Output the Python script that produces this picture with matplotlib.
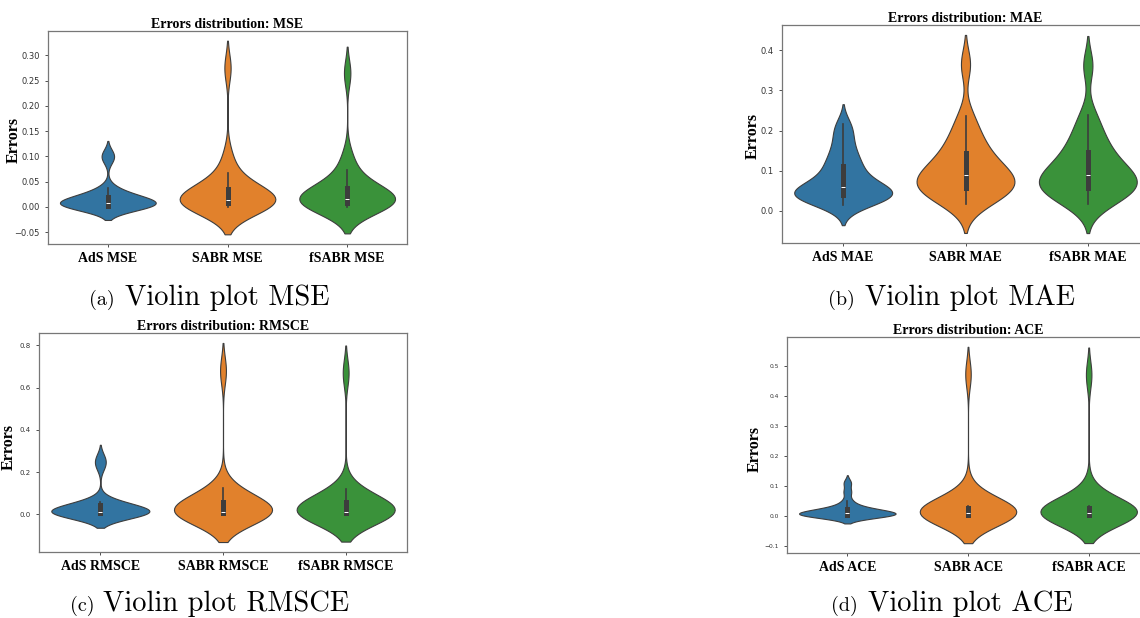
import matplotlib
matplotlib.use("Agg")
import matplotlib.pyplot as plt
import seaborn as sns
import pandas as pd

# errores por modelo
mse_ads = [0.000, 0.000, 0.001, 0.001, 0.002, 0.003, 0.005, 0.007, 0.008, 0.008,
           0.009, 0.012, 0.015, 0.018, 0.020, 0.022, 0.030, 0.037, 0.095, 0.105]
mse_sabr = [0.000, 0.001, 0.003, 0.005, 0.006, 0.008, 0.010, 0.012, 0.013, 0.014,
            0.015, 0.018, 0.022, 0.028, 0.035, 0.040, 0.052, 0.068, 0.100, 0.275]
mse_fsabr = [0.000, 0.001, 0.003, 0.005, 0.007, 0.009, 0.011, 0.013, 0.015, 0.016,
             0.017, 0.020, 0.024, 0.030, 0.037, 0.042, 0.055, 0.073, 0.100, 0.265]

mae_ads = [0.015, 0.025, 0.030, 0.035, 0.038, 0.040, 0.043, 0.045, 0.048, 0.055,
           0.062, 0.070, 0.080, 0.095, 0.110, 0.120, 0.140, 0.160, 0.190, 0.215]
mae_sabr = [0.018, 0.030, 0.040, 0.048, 0.052, 0.058, 0.065, 0.072, 0.080, 0.088,
            0.093, 0.100, 0.110, 0.125, 0.140, 0.155, 0.175, 0.200, 0.235, 0.365]
mae_fsabr = [0.018, 0.030, 0.040, 0.047, 0.051, 0.058, 0.066, 0.073, 0.081, 0.088,
             0.092, 0.100, 0.112, 0.128, 0.143, 0.158, 0.178, 0.205, 0.238, 0.362]

rmsce_ads = [0.000, 0.000, 0.001, 0.002, 0.003, 0.005, 0.007, 0.009, 0.011, 0.012,
             0.013, 0.016, 0.020, 0.028, 0.040, 0.046, 0.052, 0.060, 0.230, 0.265]
rmsce_sabr = [0.000, 0.000, 0.001, 0.002, 0.003, 0.004, 0.005, 0.007, 0.008, 0.009,
              0.011, 0.015, 0.022, 0.035, 0.055, 0.065, 0.080, 0.100, 0.125, 0.680]
rmsce_fsabr = [0.000, 0.000, 0.001, 0.002, 0.003, 0.004, 0.005, 0.007, 0.008, 0.009,
               0.011, 0.015, 0.022, 0.035, 0.055, 0.065, 0.078, 0.095, 0.120, 0.670]

ace_ads = [0.000, 0.000, 0.001, 0.002, 0.003, 0.004, 0.005, 0.006, 0.007, 0.008,
           0.009, 0.011, 0.014, 0.018, 0.022, 0.026, 0.033, 0.050, 0.080, 0.110]
ace_sabr = [0.000, 0.000, 0.001, 0.002, 0.003, 0.004, 0.005, 0.006, 0.008, 0.009,
            0.011, 0.013, 0.015, 0.018, 0.024, 0.028, 0.033, 0.060, 0.075, 0.472]
ace_fsabr = [0.000, 0.000, 0.001, 0.002, 0.003, 0.004, 0.005, 0.006, 0.008, 0.009,
             0.011, 0.013, 0.015, 0.018, 0.024, 0.028, 0.034, 0.060, 0.078, 0.470]

modelos = ["AdS", "SABR", "fSABR"]
colores = ["#1f77b4", "#ff7f0e", "#2ca02c"]

# metrica, datos, letra, caja en px (x0, y0, x1, y1), tamano ytick, posicion de "Errors"
paneles = [
    ("MSE", [mse_ads, mse_sabr, mse_fsabr], "(a)", [48, 31, 407, 244], 6.0, (-0.072, 0.49)),
    ("MAE", [mae_ads, mae_sabr, mae_fsabr], "(b)", [782, 25, 1149, 243], 6.0, (-0.058, 0.49)),
    ("RMSCE", [rmsce_ads, rmsce_sabr, rmsce_fsabr], "(c)", [39, 333, 407, 552], 5.0, (-0.06, 0.48)),
    ("ACE", [ace_ads, ace_sabr, ace_fsabr], "(d)", [787, 337, 1149, 553], 4.3, (-0.066, 0.48)),
]
# subtitulos: (fin de etiqueta, inicio de texto, linea base)
pies = {"(a)": (115, 125, 305), "(b)": (855, 865, 305),
        "(c)": (95, 103, 611), "(d)": (858, 868, 611)}

W, H = 1140, 618
fig = plt.figure(figsize=(W / 100, H / 100), dpi=100)

for metrica, datos, letra, caja, tam_ytick, pos_lab in paneles:
    x0, y0, x1, y1 = caja
    ax = fig.add_axes([x0 / W, 1 - y1 / H, (x1 - x0) / W, (y1 - y0) / H])
    filas = []
    for m, vals in zip(modelos, datos):
        for v in vals:
            filas.append({"modelo": f"{m} {metrica}", "error": v})
    df = pd.DataFrame(filas)
    sns.violinplot(data=df, x="modelo", y="error", hue="modelo", palette=colores,
                   density_norm="width", bw_adjust=0.8, linewidth=0.8,
                   inner="box", legend=False, ax=ax)
    ax.set_xlabel("")
    ax.set_ylabel("Errors", fontfamily="Liberation Serif", fontweight="bold", fontsize=11.5)
    ax.yaxis.set_label_coords(*pos_lab)
    ax.set_title(f"Errors distribution: {metrica}", fontfamily="Liberation Serif",
                 fontweight="bold", fontsize=10, pad=2)
    ax.tick_params(axis="y", labelsize=tam_ytick, length=2.5, width=0.6, colors="#333333")
    ax.tick_params(axis="x", length=2.5, width=0.6, colors="#333333")
    for t in ax.get_xticklabels():
        t.set_fontfamily("Liberation Serif")
        t.set_fontweight("bold")
        t.set_fontsize(10)
        t.set_color("black")
    for s in ax.spines.values():
        s.set_color("#777777")
        s.set_linewidth(0.9)

    fin_etq, ini_txt, base = pies[letra]
    fig.text(fin_etq / W, 1 - base / H, letra, ha="right", va="baseline",
             fontfamily="cmr10", fontsize=14.5)
    fig.text(ini_txt / W, 1 - base / H, f"Violin plot {metrica}", ha="left",
             va="baseline", fontfamily="cmr10", fontsize=20.5)

fig.savefig("out.png", dpi=100)
